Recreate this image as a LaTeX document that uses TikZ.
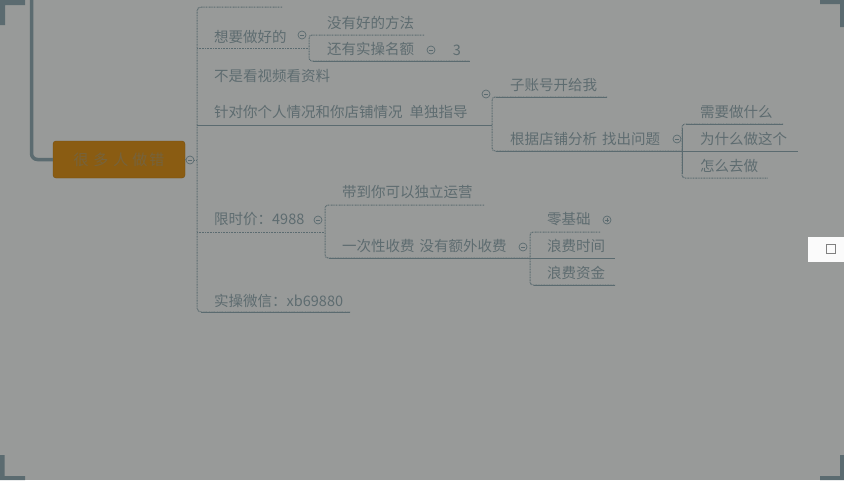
\documentclass[tikz,border=0pt]{standalone}
\usepackage{fontspec}
\setmainfont{Noto Sans CJK SC}
\definecolor{bg}{HTML}{989A99}
\definecolor{lc}{HTML}{5B6B70}
\definecolor{tc}{HTML}{5E6C70}
\definecolor{og}{HTML}{8A5C12}
\begin{document}
\begin{tikzpicture}[x=1pt,y=-1pt,
  lab/.style={font=\fontsize{14.5}{16}\selectfont, text=tc, inner sep=0pt, anchor=west},
  ln/.style={draw=lc, line width=0.9pt},
  dl/.style={draw=lc, line width=1pt, dash pattern=on 0.9pt off 0.7pt},
  coll/.style={circle, draw=lc, line width=0.7pt, minimum size=8pt, inner sep=0pt},
  rootbox/.style={rounded corners=3pt, fill=og, draw=og!85!black, minimum width=132pt, minimum height=37pt, inner sep=0pt, text=tc!45!og, font=\fontsize{15}{16}\selectfont}]
\fill[bg] (0,0) rectangle (844,480);
\useasboundingbox (0,0) rectangle (844,480);
% screen corner marks
\fill[lc] (0,0) -- (25,0) -- (25,5) -- (5,5) -- (5,25) -- (0,25) -- cycle;
\fill[lc] (844,0) -- (820,0) -- (820,4) -- (840,4) -- (840,27) -- (844,27) -- cycle;
\fill[lc] (0,480) -- (25,480) -- (25,476) -- (4.5,476) -- (4.5,455) -- (0,455) -- cycle;
\fill[lc] (844,480) -- (820,480) -- (820,476) -- (840,476) -- (840,455) -- (844,455) -- cycle;
% white box on the right
\fill[white!97!gray] (808,237) rectangle (844,262);
\draw[gray, line width=0.8pt] (826,244) rectangle (835,253);

% root
\node[rootbox] (root) at (119,159.5) {很\hspace{5pt}多\hspace{5pt}人\hspace{4pt}做\hspace{2pt}错};
\coordinate (lefttop) at (31.5,-2);
\coordinate (leftcorner) at (31.5,159.5);
\draw[lc, line width=3.5pt, rounded corners=6pt] (lefttop) -- (leftcorner) -- (root.west);

% collapse circles
\node[coll] (c0) at (190,160) {};
\node[coll] (c1) at (302,35) {};
\node[coll] (c2) at (431,50) {};
\node[coll] (c3) at (486,94) {};
\node[coll] (c4) at (677,139) {};
\node[coll] (c5) at (318,220) {};
\node[coll] (c6) at (523,247) {};
\node[coll] (c7) at (607,220) {};
\foreach \c in {c0,c1,c2,c3,c4,c5,c6,c7}
  \draw[lc, line width=0.7pt] ([xshift=-2.2pt]\c.center) -- ([xshift=2.2pt]\c.center);
\draw[lc, line width=0.7pt] ([yshift=-2.2pt]c7.center) -- ([yshift=2.2pt]c7.center);

% trunk
\coordinate (tTopE) at (282,7);
\coordinate (tTop) at (197,7);
\coordinate (tMid) at (197,160);
\coordinate (tBot) at (197,312);
\coordinate (tBotS) at (201,312);
\coordinate (tBotE) at (350,312);
\draw[ln] (root.east) -- (c0.west);
\draw[dl] (c0.east) -- (tMid);
\draw[dl, rounded corners=4pt] (tTopE) -- (tTop) -- (tBot) -- (tBotE);
\draw[ln] (tBotS) -- (tBotE);

% level 1 texts
\node[lab] (n1) at (214,36.5) {想要做好的};
\node[lab] (n2) at (214,76) {不是看视频看资料};
\node[lab] (n3) at (214,112) {针对你个人情况和你店铺情况\hspace{7pt}单独指导};
\node[lab] (n4) at (214,219) {限时价：4988};
\node[lab] (n5) at (214,301) {实操微信：xb69880};

% branch 1
\coordinate (b1s) at (197,48);
\coordinate (b1e) at (309,48);
\draw[dl] (b1s) -- (b1e);
\coordinate (a1e) at (424,35);
\coordinate (a1s) at (309,35);
\coordinate (a2s) at (309,61);
\coordinate (a2m) at (313,61);
\coordinate (a2e) at (470,61);
\draw[dl, rounded corners=3pt] (a1e) -- (a1s) -- (a2s) -- (a2e);
\draw[ln] (a2m) -- (a2e);
\node[lab] (m1) at (327,22.5) {没有好的方法};
\node[lab] (m2) at (327,49) {还有实操名额};
\node[font=\fontsize{14.5}{16}\selectfont, text=tc, inner sep=0pt] (m2n) at (457,50) {3};

% branch 3
\coordinate (b3s) at (197,125);
\coordinate (b3e) at (492,125);
\draw[ln] (b3s) -- (b3e);
\coordinate (p1e) at (607,97);
\coordinate (p1s) at (492,97);
\coordinate (p1m) at (496,97);
\coordinate (p2s) at (492,151);
\coordinate (p2m) at (496,151);
\coordinate (p2e) at (682,151);
\draw[dl, rounded corners=3pt] (p1e) -- (p1s) -- (p2s) -- (p2e);
\draw[ln] (p1m) -- (p1e);
\draw[ln] (p2m) -- (p2e);
\node[lab] (k1) at (510,85) {子账号开给我};
\node[lab] (k2) at (510,139) {根据店铺分析\hspace{5pt}找出问题};

\coordinate (q1e) at (783,124);
\coordinate (q1s) at (682,124);
\coordinate (q1m) at (686,124);
\coordinate (qv1) at (682,128);
\coordinate (qv2) at (682,174);
\coordinate (q2e) at (798,151);
\coordinate (q3s) at (682,178);
\coordinate (q3e) at (768,178);
\draw[dl, rounded corners=3pt] (q1e) -- (q1s) -- (q3s) -- (q3e);
\draw[ln] (q1m) -- (q1e);
\draw[ln] (qv1) -- (qv2);
\draw[ln] (p2e) -- (q2e);
\node[lab] (r1) at (700,112) {需要做什么};
\node[lab] (r2) at (700,139) {为什么做这个};
\node[lab] (r3) at (700,166) {怎么去做};

% branch 4
\coordinate (b4s) at (197,232);
\coordinate (b4e) at (325,232);
\draw[dl] (b4s) -- (b4e);
\coordinate (d1e) at (484,205);
\coordinate (d1s) at (325,205);
\coordinate (d2s) at (325,258);
\coordinate (d2m) at (329,258);
\coordinate (d2e) at (530,258);
\draw[dl, rounded corners=3pt] (d1e) -- (d1s) -- (d2s) -- (d2e);
\draw[ln] (d2m) -- (d2e);
\node[lab] (s1) at (342,192) {带到你可以独立运营};
\node[lab] (s2) at (342,246) {一次性收费\hspace{5pt}没有额外收费};

\coordinate (e1e) at (600,232);
\coordinate (e1s) at (530,232);
\coordinate (e3s) at (530,285);
\coordinate (e3m) at (534,285);
\coordinate (e3e) at (615,285);
\coordinate (e2e) at (615,258);
\draw[dl, rounded corners=3pt] (e1e) -- (e1s) -- (e3s) -- (e3e);
\draw[ln] (e3m) -- (e3e);
\draw[ln] (d2e) -- (e2e);
\node[lab] (u1) at (547,219) {零基础};
\node[lab] (u2) at (547,246) {浪费时间};
\node[lab] (u3) at (547,273) {浪费资金};
\end{tikzpicture}
\end{document}
